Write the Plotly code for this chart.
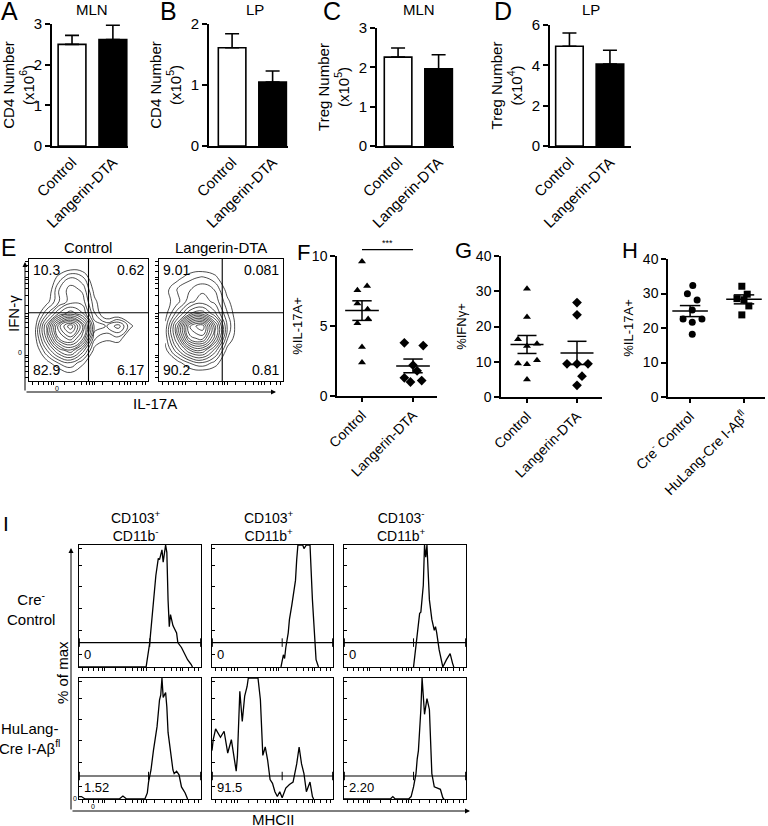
import plotly.graph_objects as go

W, H = 768, 826
FONT = "Liberation Sans, Arial, sans-serif"

# ---------------- A-D: cell numbers (bar = mean, whisker = SEM) ----------------
groups = ["Control", "Langerin-DTA"]
a_mean = [2.50, 2.62]
a_sem = [0.22, 0.35]
b_mean = [1.61, 1.05]
b_sem = [0.23, 0.18]
c_mean = [2.26, 1.96]
c_sem = [0.23, 0.36]
d_mean = [4.95, 4.06]
d_sem = [0.65, 0.69]

# ---------------- E: IFN-g vs IL-17A flow plots ----------------
e_ctrl_quads = ["10.3", "0.62", "82.9", "6.17"]
e_dta_quads = ["9.01", "0.081", "90.2", "0.81"]
e_ctrl_gate = [0.50, 0.56]
e_dta_gate = [0.51, 0.56]
grid_pos = [0.05, 0.15, 0.25, 0.35, 0.45, 0.55, 0.65, 0.75, 0.85, 0.95]
# rough density levels (rows bottom -> top)
e_ctrl_density = [
    [0, 0, 0, 0.5, 0, 0, 0, 0, 0, 0],
    [0, 0.5, 1.5, 2, 1, 0, 0, 0, 0, 0],
    [0, 2, 4, 5, 3, 0.5, 0, 0, 0, 0],
    [0.5, 3.5, 7, 8, 6, 1.5, 1, 1.2, 0, 0],
    [0.5, 4, 8, 10, 7, 2.5, 2, 3, 1, 0],
    [0, 2, 4, 5, 4, 1.5, 0, 0, 0, 0],
    [0, 0.5, 2, 3, 3, 1, 0, 0, 0, 0],
    [0, 0, 2, 3, 2.5, 0.5, 0, 0, 0, 0],
    [0, 0, 1, 2, 1.5, 0, 0, 0, 0, 0],
    [0, 0, 0, 0, 0, 0, 0, 0, 0, 0],
]
e_dta_density = [
    [0, 0, 0, 0, 0, 0, 0, 0, 0, 0],
    [0, 0.5, 1.5, 2, 1.2, 0, 0, 0, 0, 0],
    [0.5, 2.5, 4.5, 5, 3, 0.5, 0, 0, 0, 0],
    [1, 4, 8, 8.5, 5.5, 1.5, 0, 0, 0, 0],
    [1, 4.5, 9, 10, 6, 2, 0, 0, 0, 0],
    [0.5, 2.5, 4.5, 5, 3.5, 1.5, 0, 0, 0, 0],
    [0.5, 1.2, 2.5, 3, 2.5, 1, 0, 0, 0, 0],
    [0.5, 1.5, 2, 2.5, 2, 0.5, 0, 0, 0, 0],
    [0, 0.5, 1.2, 1.5, 1, 0, 0, 0, 0, 0],
    [0, 0, 0, 0, 0, 0, 0, 0, 0, 0],
]

# ---------------- F-H: per-mouse percentages ----------------
f_ctrl = [9.6, 7.85, 7.55, 6.6, 6.2, 5.5, 5.2, 3.5, 2.4]
f_ctrl_jit = [0, 0.1, -0.09, -0.09, 0.11, 0.12, -0.09, 0, 0]
f_dta = [3.8, 3.6, 2.2, 1.8, 1.3, 1.1, 1.0]
f_dta_jit = [-0.17, 0.2, 0.0, 0.08, -0.17, 0.17, -0.05]
f_mean = [6.1, 2.15]
f_sem = [0.7, 0.49]
f_sig = 10.45

g_ctrl = [30.7, 22.7, 16.4, 15.1, 14.5, 10.4, 9.5, 9.3, 5.0]
g_ctrl_jit = [0, 0, -0.18, 0.2, 0, 0.2, -0.18, 0, 0]
g_dta = [26.8, 23.3, 9.4, 9.4, 9.4, 5.9, 3.3]
g_dta_jit = [0, 0, -0.2, 0, 0.22, 0.1, 0]
g_mean = [14.9, 12.5]
g_sem = [2.55, 3.3]

h_groups = ["Cre<sup>-</sup> Control", "HuLang-Cre I-Aβ<sup>fl</sup>"]
h_ctrl = [32.3, 29.9, 28.1, 25.2, 22.6, 22.6, 21.7, 18.2]
h_ctrl_jit = [0.05, -0.05, 0.13, 0.04, -0.13, 0.22, 0.04, 0.04]
h_ko = [32.1, 29.8, 28.5, 28.2, 26.4, 23.8]
h_ko_jit = [-0.04, 0.06, -0.13, 0.0, 0.09, -0.04]
h_mean = [24.9, 28.3]
h_sem = [1.6, 1.3]

# ---------------- I: MHCII histograms (x, % of max) ----------------
i_cols = ["CD103<sup>+</sup><br>CD11b<sup>-</sup>",
          "CD103<sup>+</sup><br>CD11b<sup>+</sup>",
          "CD103<sup>-</sup><br>CD11b<sup>+</sup>"]
i_rows = ["Cre<sup>-</sup><br>Control", "HuLang-<br>Cre I-Aβ<sup>fl</sup>"]
i_r1c1_x = [0.0, 0.3, 0.55, 0.58, 0.61, 0.63, 0.65, 0.66, 0.68, 0.69, 0.71, 0.72, 0.73,
            0.74, 0.75, 0.77, 0.80, 0.81, 0.84, 0.87, 0.89, 0.92, 0.93]
i_r1c1_y = [0, 0, 0, 0.20, 0.55, 0.75, 0.89, 0.88, 0.96, 0.86, 1.0, 0.94, 0.55,
            0.33, 0.43, 0.34, 0.28, 0.20, 0.16, 0.10, 0.06, 0.02, 0]
i_r1c2_x = [0.57, 0.59, 0.60, 0.61, 0.63, 0.64, 0.66, 0.69, 0.70, 0.71, 0.75, 0.76,
            0.78, 0.81, 0.83, 0.85, 0.86, 0.88]
i_r1c2_y = [0, 0.10, 0.07, 0.16, 0.28, 0.39, 0.51, 0.71, 0.88, 1.0, 1.0, 0.97,
            1.0, 1.0, 0.55, 0.20, 0.06, 0]
i_r1c3_x = [0.57, 0.59, 0.61, 0.62, 0.63, 0.65, 0.66, 0.67, 0.68, 0.69, 0.70, 0.72,
            0.74, 0.75, 0.76, 0.78, 0.80, 0.81, 0.84, 0.87, 0.89, 0.90]
i_r1c3_y = [0, 0.20, 0.39, 0.44, 0.45, 0.67, 1.0, 0.9, 1.0, 0.71, 0.55, 0.39,
            0.30, 0.33, 0.28, 0.14, 0.03, 0, 0.06, 0.11, 0.03, 0]
i_r2c1_x = [0.0, 0.02, 0.05, 0.33, 0.36, 0.39, 0.54, 0.56, 0.57, 0.59, 0.61, 0.64, 0.66,
            0.67, 0.68, 0.69, 0.71, 0.72, 0.73, 0.75, 0.77, 0.78, 0.80, 0.82, 0.84, 0.87, 0.89]
i_r2c1_y = [0.02, 0.02, 0, 0, 0.025, 0, 0, 0.05, 0.14, 0.24, 0.40, 0.60, 0.82,
            0.86, 1.0, 0.84, 0.88, 0.76, 0.55, 0.38, 0.24, 0.21, 0.23, 0.20, 0.10, 0.05, 0]
i_r2c2_x = [0.0, 0.01, 0.03, 0.07, 0.10, 0.13, 0.16, 0.18, 0.20, 0.21, 0.23, 0.25, 0.27,
            0.29, 0.30, 0.38, 0.40, 0.42, 0.44, 0.46, 0.48, 0.50, 0.52, 0.54, 0.56, 0.58,
            0.61, 0.64, 0.67, 0.70, 0.72, 0.74, 0.76, 0.78, 0.81, 0.83, 0.84]
i_r2c2_y = [0.40, 0.49, 0.58, 0.51, 0.56, 0.38, 0.49, 0.35, 0.23, 0.35, 0.89, 0.64, 0.85,
            0.93, 1.0, 1.0, 0.82, 0.36, 0.43, 0.32, 0.16, 0.13, 0.06, 0.02, 0.06, 0.01,
            0.09, 0.12, 0.14, 0.29, 0.43, 0.29, 0.21, 0.06, 0.14, 0.02, 0]
i_r2c3_x = [0.0, 0.38, 0.40, 0.42, 0.53, 0.55, 0.57, 0.59, 0.60, 0.61, 0.63, 0.64, 0.66,
            0.68, 0.70, 0.71, 0.72, 0.74, 0.76, 0.79, 0.81, 0.82]
i_r2c3_y = [0, 0, 0.02, 0, 0, 0.02, 0.10, 0.21, 0.33, 0.40, 0.74, 1.0, 0.70,
            0.83, 0.74, 0.40, 0.21, 0.10, 0.09, 0.08, 0.01, 0]
i_curves = [[(i_r1c1_x, i_r1c1_y), (i_r1c2_x, i_r1c2_y), (i_r1c3_x, i_r1c3_y)],
            [(i_r2c1_x, i_r2c1_y), (i_r2c2_x, i_r2c2_y), (i_r2c3_x, i_r2c3_y)]]
i_gate_level = [0.20, 0.19]
i_gate_split = [[0.58, 0.58, 0.57], [0.57, 0.58, 0.57]]
i_pcts = [["0", "0", "0"], ["1.52", "91.5", "2.20"]]

# small flow-axis tick marks (style only)
tick_marks = [0.03, 0.08, 0.12, 0.16, 0.19, 0.21, 0.3, 0.38, 0.44, 0.48, 0.51, 0.53,
              0.55, 0.62, 0.7, 0.76, 0.8, 0.83, 0.85, 0.9, 0.95, 0.98]

fig = go.Figure()
lay = {}
shapes = []
notes = []


def fx(x):
    return x / W


def fy(y):
    return 1 - y / H


def sfx(n):
    return "" if n == 1 else str(n)


def add_axes(n, xdom, ydom, xr, yr, xkw=None, ykw=None):
    base = dict(showgrid=False, zeroline=False, automargin=False, linecolor="black",
                tickcolor="black", tickfont=dict(size=15, color="black"))
    xa = dict(base, domain=[fx(xdom[0]), fx(xdom[1])], range=list(xr), anchor="y" + sfx(n))
    ya = dict(base, domain=[fy(ydom[1]), fy(ydom[0])], range=list(yr), anchor="x" + sfx(n))
    xa.update(xkw or {})
    ya.update(ykw or {})
    lay["xaxis" + sfx(n)] = xa
    lay["yaxis" + sfx(n)] = ya
    return "x" + sfx(n), "y" + sfx(n)


def txt(x, y, s, size=15, **kw):
    d = dict(x=fx(x), y=fy(y), xref="paper", yref="paper", text=s, showarrow=False,
             xanchor="center", yanchor="middle", font=dict(size=size, color="black"))
    d.update(kw)
    return d


def arrow(x0, y0, x1, y1):
    return dict(x=fx(x1), y=fy(y1), xref="paper", yref="paper", text="", showarrow=True,
                ax=x0 - x1, ay=y0 - y1, arrowhead=2, arrowsize=1, arrowwidth=1,
                arrowcolor="black", standoff=0)


# ---------------- A-D bars ----------------
bar_panels = [
    dict(letter="A", title="MLN", ytitle="CD4 Number<br>(x10<sup>6</sup>)", mean=a_mean, sem=a_sem,
         ticks=[0, 1, 2, 3], xd=(52, 128), yd=(24, 146), xr=(-0.49, 1.37), lxy=(9, 11), txy=(92, 9)),
    dict(letter="B", title="LP", ytitle="CD4 Number<br>(x10<sup>5</sup>)", mean=b_mean, sem=b_sem,
         ticks=[0, 1, 2], xd=(209, 288), yd=(24, 146), xr=(-0.57, 1.38), lxy=(168, 11), txy=(255, 9)),
    dict(letter="C", title="MLN", ytitle="Treg Number<br>(x10<sup>5</sup>)", mean=c_mean, sem=c_sem,
         ticks=[0, 1, 2, 3], xd=(377, 454), yd=(28, 146), xr=(-0.52, 1.38), lxy=(332, 11), txy=(419, 9)),
    dict(letter="D", title="LP", ytitle="Treg Number<br>(x10<sup>4</sup>)", mean=d_mean, sem=d_sem,
         ticks=[0, 2, 4, 6], xd=(550, 631), yd=(25, 146), xr=(-0.48, 1.52), lxy=(503, 11), txy=(591, 9)),
]
n = 1
for p in bar_panels:
    xa, ya = add_axes(
        n, p["xd"], p["yd"], p["xr"], (0, p["ticks"][-1]),
        xkw=dict(showline=True, linewidth=1.6, ticks="", tickvals=[0, 1], ticktext=groups,
                 tickangle=-45),
        ykw=dict(showline=True, linewidth=1.6, ticks="outside", ticklen=5, tickwidth=1.6,
                 tickvals=p["ticks"],
                 title=dict(text=p["ytitle"], font=dict(size=15, color="black"), standoff=6)),
    )
    fig.add_trace(go.Bar(
        x=[0, 1], y=p["mean"], width=0.68, xaxis=xa, yaxis=ya,
        marker=dict(color=["white", "black"], line=dict(color="black", width=1.6)),
        error_y=dict(type="data", symmetric=False, array=p["sem"], arrayminus=[0, 0],
                     color="black", thickness=1.6, width=7),
    ))
    notes.append(txt(*p["lxy"], p["letter"], size=25))
    notes.append(txt(*p["txy"], p["title"], size=15))
    n += 1

# ---------------- E contour plots ----------------
e_panels = [
    dict(head="Control", z=e_ctrl_density, q=e_ctrl_quads, gate=e_ctrl_gate, xd=(29, 148), hx=88),
    dict(head="Langerin-DTA", z=e_dta_density, q=e_dta_quads, gate=e_dta_gate, xd=(159, 283), hx=221),
]
for p in e_panels:
    xa, ya = add_axes(
        n, p["xd"], (259, 381), (0, 1), (0, 1),
        xkw=dict(showline=True, mirror=True, linewidth=1.2, showticklabels=False,
                 ticks="outside", ticklen=3, tickvals=tick_marks),
        ykw=dict(showline=True, mirror=True, linewidth=1.2, showticklabels=False,
                 ticks="outside", ticklen=3, tickvals=tick_marks),
    )
    fig.add_trace(go.Contour(
        x=grid_pos, y=grid_pos, z=p["z"], xaxis=xa, yaxis=ya, showscale=False,
        contours=dict(coloring="lines", start=0.8, end=10, size=0.62),
        colorscale=[[0, "black"], [1, "black"]], line=dict(width=0.7, smoothing=1.3),
        hoverinfo="skip",
    ))
    gx, gy = p["gate"]
    shapes.append(dict(type="line", xref=xa, yref=ya, x0=gx, x1=gx, y0=0, y1=1,
                       line=dict(color="black", width=1.1)))
    shapes.append(dict(type="line", xref=xa, yref=ya, x0=0, x1=1, y0=gy, y1=gy,
                       line=dict(color="black", width=1.1)))
    spots = [(0.02, 0.99, "left", "top"), (0.985, 0.99, "right", "top"),
             (0.02, 0.01, "left", "bottom"), (0.985, 0.01, "right", "bottom")]
    for (qx, qy, xan, yan), label in zip(spots, p["q"]):
        notes.append(dict(x=qx, y=qy, xref=xa + " domain", yref=ya + " domain", text=label,
                          showarrow=False, xanchor=xan, yanchor=yan,
                          font=dict(size=14, color="black")))
    notes.append(txt(p["hx"], 247, p["head"], size=15))
    n += 1

notes.append(txt(8, 248, "E", size=23))
notes.append(txt(13, 314, "IFN-γ", size=15, textangle=-90))
notes.append(txt(155, 403, "IL-17A", size=15))
notes.append(arrow(25, 392, 25, 262))
notes.append(arrow(25, 392, 276, 392))
notes.append(txt(20, 352, "0", size=7))
notes.append(txt(57, 389, "0", size=7))

# ---------------- F-H dot plots ----------------
dot_panels = [
    dict(letter="F", lxy=(303, 252), ytitle="%IL-17A+", ticks=[0, 5, 10], labels=groups,
         pts=[(f_ctrl, f_ctrl_jit, "triangle-up"), (f_dta, f_dta_jit, "diamond")],
         mean=f_mean, sem=f_sem, xd=(337, 437), yd=(256, 396), xr=(-0.49, 1.47)),
    dict(letter="G", lxy=(463, 250), ytitle="%IFNγ+", ticks=[0, 10, 20, 30, 40], labels=groups,
         pts=[(g_ctrl, g_ctrl_jit, "triangle-up"), (g_dta, g_dta_jit, "diamond")],
         mean=g_mean, sem=g_sem, xd=(501, 602), yd=(256, 397), xr=(-0.52, 1.5)),
    dict(letter="H", lxy=(630, 250), ytitle="%IL-17A+", ticks=[0, 10, 20, 30, 40], labels=h_groups,
         pts=[(h_ctrl, h_ctrl_jit, "circle"), (h_ko, h_ko_jit, "square")],
         mean=h_mean, sem=h_sem, xd=(668, 765), yd=(259, 397), xr=(-0.41, 1.39)),
]
for p in dot_panels:
    xa, ya = add_axes(
        n, p["xd"], p["yd"], p["xr"], (0, p["ticks"][-1]),
        xkw=dict(showline=True, linewidth=1.5, ticks="outside", ticklen=4, tickwidth=1.5,
                 tickvals=[0, 1], ticktext=p["labels"], tickangle=-45,
                 tickfont=dict(size=14, color="black")),
        ykw=dict(showline=True, linewidth=1.5, ticks="outside", ticklen=5, tickwidth=1.5,
                 tickvals=p["ticks"], tickfont=dict(size=14, color="black"),
                 title=dict(text=p["ytitle"], font=dict(size=13, color="black"), standoff=6)),
    )
    for g, (vals, jit, sym) in enumerate(p["pts"]):
        fig.add_trace(go.Scatter(
            x=[g + j for j in jit], y=vals, mode="markers", xaxis=xa, yaxis=ya, cliponaxis=False,
            marker=dict(symbol=sym, size=7 if sym != "diamond" else 7.5, color="black"),
        ))
        m, s = p["mean"][g], p["sem"][g]
        fig.add_trace(go.Scatter(
            x=[g - 0.33, g + 0.33, None, g, g, None, g - 0.19, g + 0.19, None, g - 0.19, g + 0.19],
            y=[m, m, None, m - s, m + s, None, m + s, m + s, None, m - s, m - s],
            mode="lines", xaxis=xa, yaxis=ya, line=dict(color="black", width=1.5),
        ))
    notes.append(txt(*p["lxy"], p["letter"], size=22))
    if p["letter"] == "F":
        r0, r1 = p["xr"]
        sx = [(0 - r0) / (r1 - r0), (1 - r0) / (r1 - r0)]
        shapes.append(dict(type="line", xref=xa + " domain", yref=ya + " domain",
                           x0=sx[0], x1=sx[1], y0=f_sig / 10, y1=f_sig / 10,
                           line=dict(color="black", width=1.2)))
        notes.append(dict(x=(sx[0] + sx[1]) / 2, y=f_sig / 10, xref=xa + " domain",
                          yref=ya + " domain", text="***", showarrow=False,
                          xanchor="center", yanchor="bottom",
                          font=dict(size=9, color="black")))
    n += 1

# ---------------- I histograms ----------------
col_x = [(79, 201), (212, 333), (344, 466)]
row_y = [(545, 667), (678, 799)]
for r in range(2):
    for c in range(3):
        xa, ya = add_axes(
            n, col_x[c], row_y[r], (0, 1), (0, 1),
            xkw=dict(showline=True, mirror=True, linewidth=1.3, showticklabels=False,
                     ticks="outside", ticklen=3, tickvals=tick_marks),
            ykw=dict(showline=True, mirror=True, linewidth=1.3, showticklabels=False,
                     ticks="inside", ticklen=3, tickvals=[0.1, 0.3, 0.48, 0.66, 0.83, 0.97]),
        )
        hx, hy = i_curves[r][c]
        fig.add_trace(go.Scatter(x=hx, y=hy, mode="lines", xaxis=xa, yaxis=ya,
                                 line=dict(color="black", width=1.3)))
        gy = i_gate_level[r]
        gs = i_gate_split[r][c]
        shapes.append(dict(type="line", xref=xa, yref=ya, x0=0, x1=1, y0=gy, y1=gy,
                           line=dict(color="black", width=1.2)))
        for tx in [0.003, gs, 0.997]:
            shapes.append(dict(type="line", xref=xa, yref=ya, x0=tx, x1=tx,
                               y0=gy - 0.035, y1=gy + 0.035, line=dict(color="black", width=1)))
        notes.append(dict(x=0.025, y=gy - 0.02, xref=xa + " domain", yref=ya + " domain",
                          text=i_pcts[r][c], showarrow=False, xanchor="left", yanchor="top",
                          font=dict(size=13, color="black")))
        n += 1

for c, head in enumerate(i_cols):
    notes.append(txt((col_x[c][0] + col_x[c][1]) / 2 - 4, 526, head, size=14))
notes.append(txt(31, 608, i_rows[0], size=15))
notes.append(txt(29, 738, i_rows[1], size=15))
notes.append(txt(6, 523, "I", size=21))
notes.append(txt(62, 673, "% of max", size=15, textangle=-90))
notes.append(txt(273, 819, "MHCII", size=15))
notes.append(arrow(71, 811, 71, 548))
notes.append(arrow(71, 811, 470, 811))
notes.append(txt(75, 798, "0", size=7))
notes.append(txt(93, 806, "0", size=7))

fig.update_layout(
    width=W, height=H, margin=dict(l=0, r=0, t=0, b=0),
    paper_bgcolor="white", plot_bgcolor="white", showlegend=False,
    font=dict(family=FONT, color="black"),
    shapes=shapes, annotations=notes, **lay,
)
# drop the default 8px page margin so the figure fills the window exactly
fig.write_html("out.html", config={"displayModeBar": False},
               post_script="document.body.style.margin = '0';")
